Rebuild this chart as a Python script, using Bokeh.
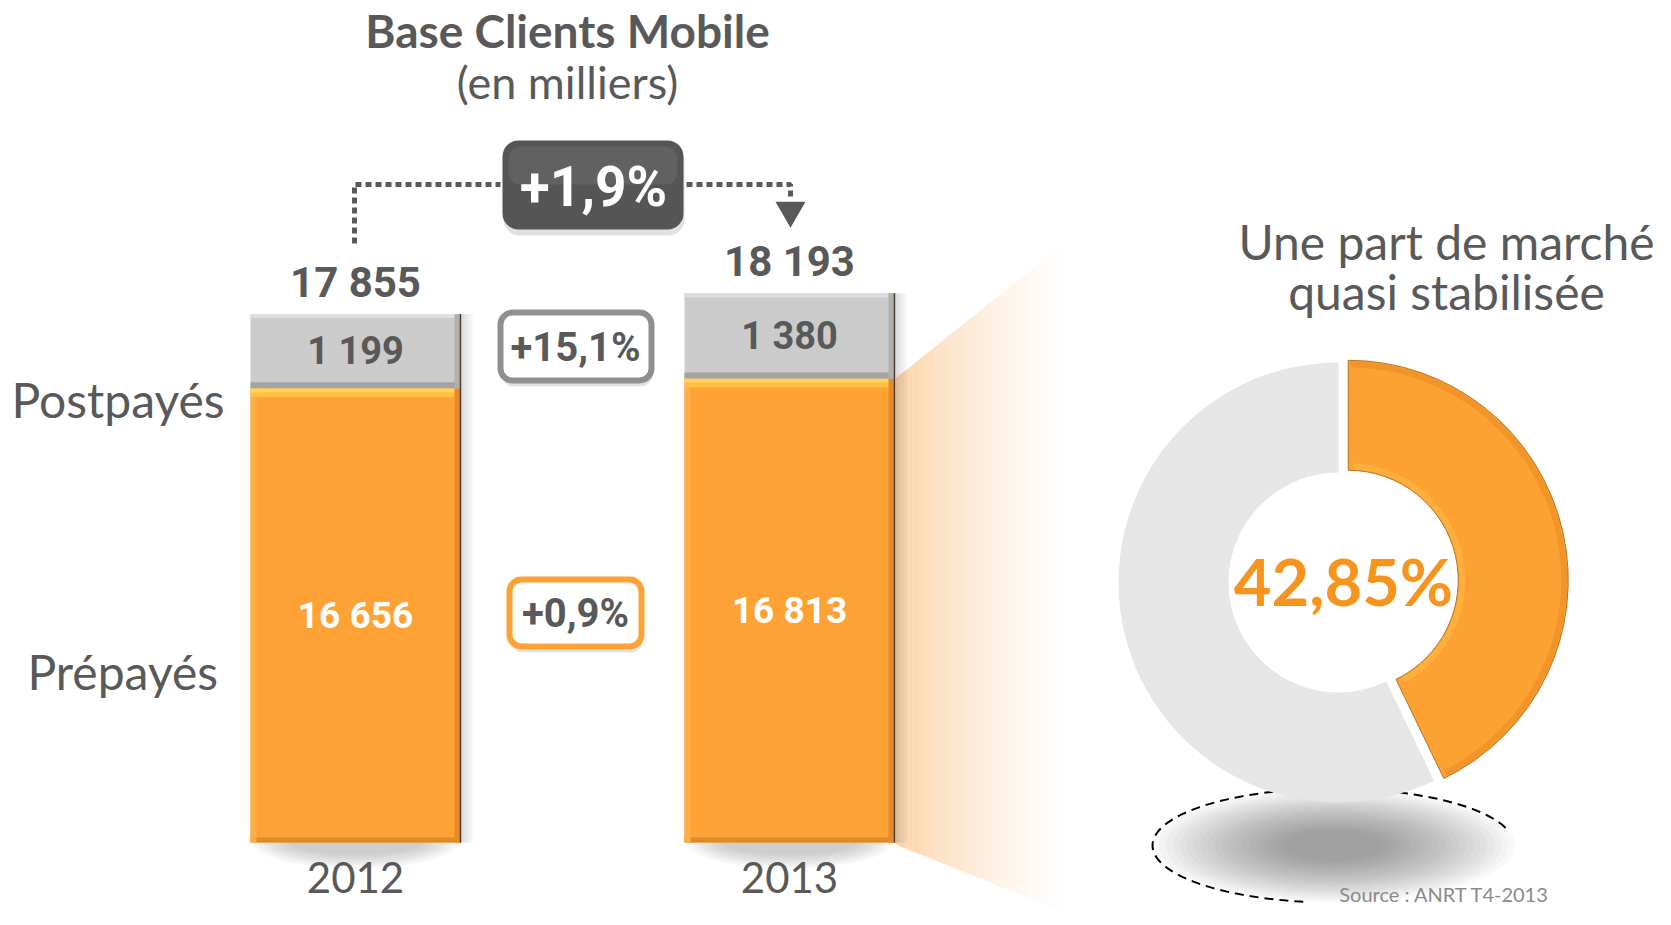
import math
from bokeh.plotting import figure
from bokeh.models import Range1d, BoxAnnotation, ColumnDataSource
from bokeh.core.properties import value
from bokeh.embed import file_html
from bokeh.resources import INLINE

# ---------------- data ----------------
YEARS = [2012, 2013]
YEAR_LABELS = ["2012", "2013"]
PREPAID = [16656, 16813]
POSTPAID = [1199, 1380]
SERIES_LABELS = ["Postpayés", "Prépayés"]
MARKET_SHARE = 42.85
TITLE = "Base Clients Mobile"
SUBTITLE = "(en milliers)"
PIE_TITLE = ["Une part de marché", "quasi stabilisée"]
SOURCE = "Source : ANRT T4-2013"

TOTALS = [a + b for a, b in zip(PREPAID, POSTPAID)]


def fmt_int(v):
    return f"{v:,}".replace(",", " ")


def fmt_pct(v, d):
    return ("+" if v >= 0 else "") + f"{v:.{d}f}".replace(".", ",") + "%"


G_TOTAL = fmt_pct((TOTALS[1] / TOTALS[0] - 1) * 100, 1)
G_POST = fmt_pct((POSTPAID[1] / POSTPAID[0] - 1) * 100, 1)
G_PRE = fmt_pct((PREPAID[1] / PREPAID[0] - 1) * 100, 1)

# ---------------- layout ----------------
W, H = 1655, 909
REF_H = 925


def sy(py):
    """reference pixel row -> main y data coordinate"""
    return REF_H - py


ORANGE = "#ffa236"
GRAY_BAR = "#cbcbcb"
TXT = "#595959"
FONT = value("Lato")
NUMFONT = value("Roboto")

p = figure(width=W, height=H, x_range=Range1d(0, W), y_range=Range1d(REF_H - H, REF_H),
           output_backend="svg", toolbar_location=None, min_border=0,
           x_axis_location=None, y_axis_location=None)
p.grid.visible = False
p.outline_line_color = None
p.background_fill_color = "white"
p.border_fill_color = "white"

# value axis (truncated, as in the original) and year axis
K = 0.06187          # px per thousand customers
V0, PY0 = 17379, 343
p.extra_y_ranges = {"val": Range1d(V0 - (H - PY0) / K, V0 + PY0 / K)}
YR_PX, X0 = 434, 355
p.extra_x_ranges = {"yr": Range1d(YEARS[0] - X0 / YR_PX, YEARS[0] + (W - X0) / YR_PX)}
BASE = V0 - (842 - PY0) / K
BAR_W = 210 / YR_PX
R = dict(x_range_name="yr", y_range_name="val")

src = ColumnDataSource(dict(
    year=YEARS, pre=PREPAID, tot=TOTALS,
    pre_lab=[fmt_int(v) for v in PREPAID],
    post_lab=[fmt_int(v) for v in POSTPAID],
    tot_lab=[fmt_int(v) for v in TOTALS],
    pre_mid=[(BASE + v) / 2 for v in PREPAID],
    post_mid=[(a + b) / 2 for a, b in zip(PREPAID, TOTALS)],
    tot_y=[v + 32 / K for v in TOTALS],
    base=[BASE] * len(YEARS),
))

# fan linking 2013 bar to the donut
fx0, fx1 = 895, 1067
ft0, ft1 = 378, 240
fb0, fb1 = 844, 913
N = 40
xs, ys, al = [], [], []
for i in range(N):
    a = i / N
    b = (i + 1) / N
    xa, xb = fx0 + (fx1 - fx0) * a, fx0 + (fx1 - fx0) * b
    ta, tb = ft0 + (ft1 - ft0) * a, ft0 + (ft1 - ft0) * b
    ba, bb = fb0 + (fb1 - fb0) * a, fb0 + (fb1 - fb0) * b
    xs.append([xa, xb, xb, xa])
    ys.append([sy(ta), sy(tb), sy(bb), sy(ba)])
    al.append(0.68 * (1 - a) ** 1.4)
p.patches(xs, ys, fill_color="#fbbf80", fill_alpha=al, line_color=None)

# soft shadows under bars
for k in range(8):
    p.ellipse(x="year", y="base", width=205 - k * 10, height=52 - k * 4,
              width_units="screen", height_units="screen",
              fill_color="#707070", fill_alpha=0.05, line_color=None, source=src, **R)

# right side shadow of bars
for k in range(6):
    p.vbar(x=[y + BAR_W / 2 + (2 + k * 2) / YR_PX for y in YEARS], width=2 / YR_PX,
           bottom=BASE, top=TOTALS, fill_color="#606060", fill_alpha=0.22 * (1 - k / 6),
           line_color=None, **R)

# stacked bars
p.vbar(x="year", width=BAR_W, bottom="base", top="pre", source=src,
       fill_color=ORANGE, line_color=None, **R)
p.vbar(x="year", width=BAR_W, bottom="pre", top="tot", source=src,
       fill_color=GRAY_BAR, line_color=None, **R)

# bevel effects
p.vbar(x=YEARS, width=BAR_W, bottom=[v - 9 / K for v in PREPAID], top=PREPAID,
       fill_color="#ffbf45", line_color=None, **R)
p.vbar(x=YEARS, width=BAR_W, bottom=[v - 4 / K for v in PREPAID], top=PREPAID,
       fill_color="#ffd35c", line_color=None, **R)
p.vbar(x=YEARS, width=BAR_W, bottom=BASE, top=BASE + 5 / K,
       fill_color="#e0892b", line_color=None, **R)
p.vbar(x=[y - BAR_W / 2 + 3 / YR_PX for y in YEARS], width=6 / YR_PX, bottom=BASE,
       top=[v - 9 / K for v in PREPAID], fill_color="#ffad48", line_color=None, **R)
p.vbar(x=[y + BAR_W / 2 - 3 / YR_PX for y in YEARS], width=6 / YR_PX, bottom=BASE,
       top=PREPAID, fill_color="#e8892a", line_color=None, **R)
p.vbar(x=YEARS, width=BAR_W, bottom=[v - 4 / K for v in TOTALS], top=TOTALS,
       fill_color="#dedede", line_color=None, **R)
p.vbar(x=YEARS, width=BAR_W, bottom=PREPAID, top=[v + 6 / K for v in PREPAID],
       fill_color="#a3a3a3", line_color=None, **R)
p.vbar(x=[y + BAR_W / 2 - 3 / YR_PX for y in YEARS], width=6 / YR_PX, bottom=PREPAID,
       top=TOTALS, fill_color="#b0b0b0", line_color=None, **R)
p.segment(x0=[y + BAR_W / 2 for y in YEARS], x1=[y + BAR_W / 2 for y in YEARS],
          y0=[BASE] * 2, y1=TOTALS, line_color="#4a3a2a", line_width=1.5, **R)

# bar value labels
p.text(x="year", y="post_mid", text="post_lab", source=src, text_font=NUMFONT,
       text_font_style="bold", text_font_size="38px", text_color=TXT,
       text_align="center", text_baseline="middle", **R)
p.text(x="year", y="pre_mid", text="pre_lab", source=src, text_font=NUMFONT,
       text_font_style="bold", text_font_size="37px", text_color="white",
       text_align="center", text_baseline="middle", **R)
p.text(x="year", y="tot_y", text="tot_lab", source=src, text_font=NUMFONT,
       text_font_style="bold", text_font_size="42px", text_color=TXT,
       text_align="center", text_baseline="middle", **R)

# year labels (kept inside the drawable area)
p.text(x=YEARS, y=[BASE - 35 / K] * 2, text=YEAR_LABELS, text_font=FONT,
       text_font_size="42px", text_color=TXT, text_align="center",
       text_baseline="middle", **R)

# series labels
p.text(x=[11, 27], y=[sy(399), sy(671)], text=SERIES_LABELS, text_font=FONT,
       text_font_size="48px", text_color=TXT, text_align="left", text_baseline="middle")

# title
p.text(x=[567], y=[sy(30)], text=[TITLE], text_font=FONT, text_font_style="bold",
       text_font_size="46px", text_color=TXT, text_align="center", text_baseline="middle")
p.text(x=[567], y=[sy(81)], text=[SUBTITLE], text_font=FONT,
       text_font_size="45px", text_color=TXT, text_align="center", text_baseline="middle")

# dotted connector with arrow
p.line([354, 354, 500], [sy(243), sy(184), sy(184)], line_color=TXT, line_width=5,
       line_dash="6 4")
p.line([686, 790, 790], [sy(184), sy(184), sy(196)], line_color=TXT, line_width=5,
       line_dash="6 4")
p.scatter([790], [sy(210)], marker="inverted_triangle", size=30, fill_color=TXT,
          line_color=None)


def badge(l, r, t, b, fill, line, lw, radius):
    p.add_layout(BoxAnnotation(left=l + 1, right=r + 1, top=sy(t + 6), bottom=sy(b + 6),
                               fill_color="#9a9a9a", fill_alpha=0.3, line_color=None,
                               border_radius=radius, level="underlay"))
    p.add_layout(BoxAnnotation(left=l, right=r, top=sy(t), bottom=sy(b),
                               fill_color=fill, fill_alpha=1.0, line_color=line,
                               line_alpha=1.0, line_width=lw,
                               border_radius=radius, level="underlay"))


badge(502, 683, 140, 229, "#555555", None, 0, 16)
p.add_layout(BoxAnnotation(left=508, right=677, top=sy(146), bottom=sy(184),
                           fill_color="white", fill_alpha=0.07, line_color=None,
                           border_radius=12, level="underlay"))
badge(500, 651, 312, 380, "white", "#8f8f8f", 6, 12)
badge(509, 641, 579, 646, "white", "#ffa236", 6, 12)

p.text(x=[593], y=[sy(186)], text=[G_TOTAL], text_font=NUMFONT, text_font_style="bold",
       text_font_size="55px", text_color="white", text_align="center", text_baseline="middle")
p.text(x=[575], y=[sy(347)], text=[G_POST], text_font=NUMFONT, text_font_style="bold",
       text_font_size="40px", text_color=TXT, text_align="center", text_baseline="middle")
p.text(x=[575], y=[sy(613)], text=[G_PRE], text_font=NUMFONT, text_font_style="bold",
       text_font_size="40px", text_color=TXT, text_align="center", text_baseline="middle")

# ---------------- donut ----------------
CX, CY = 1338, sy(582)
R_OUT, R_IN = 220, 110

# shadow beneath the donut
SX, SY = 1333, sy(845)
for k in range(20):
    p.ellipse(x=[SX], y=[SY], width=364 - k * 14, height=114 - k * 4.4,
              width_units="screen", height_units="screen",
              fill_color="#555555", fill_alpha=0.035, line_color=None)
ang = [math.radians(a) for a in range(18, 262, 3)]
p.line([SX + 181 * math.cos(a) for a in ang], [SY + 57 * math.sin(a) for a in ang],
       line_color="black", line_width=2, line_dash="9 6")

share_ang = 2 * math.pi * MARKET_SHARE / 100
top_ang = math.pi / 2
p.annular_wedge(x=[CX], y=[CY], inner_radius=R_IN, outer_radius=R_OUT,
                inner_radius_units="screen", outer_radius_units="screen",
                start_angle=top_ang, end_angle=top_ang + 2 * math.pi - share_ang,
                fill_color="#e6e6e6", line_color=None)

mid = top_ang - share_ang / 2
ox, oy = CX + 10 * math.cos(mid), CY + 10 * math.sin(mid)
p.annular_wedge(x=[ox], y=[oy], inner_radius=R_IN, outer_radius=R_OUT,
                inner_radius_units="screen", outer_radius_units="screen",
                start_angle=top_ang - share_ang, end_angle=top_ang,
                fill_color="#fda232", line_color="#b8731f", line_width=1)
p.annular_wedge(x=[ox], y=[oy], inner_radius=R_IN + 1, outer_radius=R_IN + 7,
                inner_radius_units="screen", outer_radius_units="screen",
                start_angle=top_ang - share_ang + 0.05, end_angle=top_ang - 0.04,
                fill_color="#ffc34f", fill_alpha=0.4, line_color=None)
p.annular_wedge(x=[ox], y=[oy], inner_radius=R_OUT - 7, outer_radius=R_OUT - 1,
                inner_radius_units="screen", outer_radius_units="screen",
                start_angle=top_ang - share_ang + 0.02, end_angle=top_ang - 0.01,
                fill_color="#ea8b24", fill_alpha=0.6, line_color=None)

share_txt = f"{MARKET_SHARE:.2f}".replace(".", ",") + "%"
p.text(x=[1343], y=[sy(580)], text=[share_txt], text_font=FONT, text_font_style="bold",
       text_font_size="65px", text_color="#f7941d", text_align="center",
       text_baseline="middle")

p.text(x=[1446, 1446], y=[sy(241), sy(291)], text=PIE_TITLE, text_font=FONT,
       text_font_size="48px", text_color=TXT, text_align="center", text_baseline="middle")

p.text(x=[1444], y=[sy(893)], text=[SOURCE], text_font=FONT, text_font_size="20px",
       text_color="#8a8a8a", text_align="center", text_baseline="middle")

open("out.html", "w").write(file_html(p, INLINE))
